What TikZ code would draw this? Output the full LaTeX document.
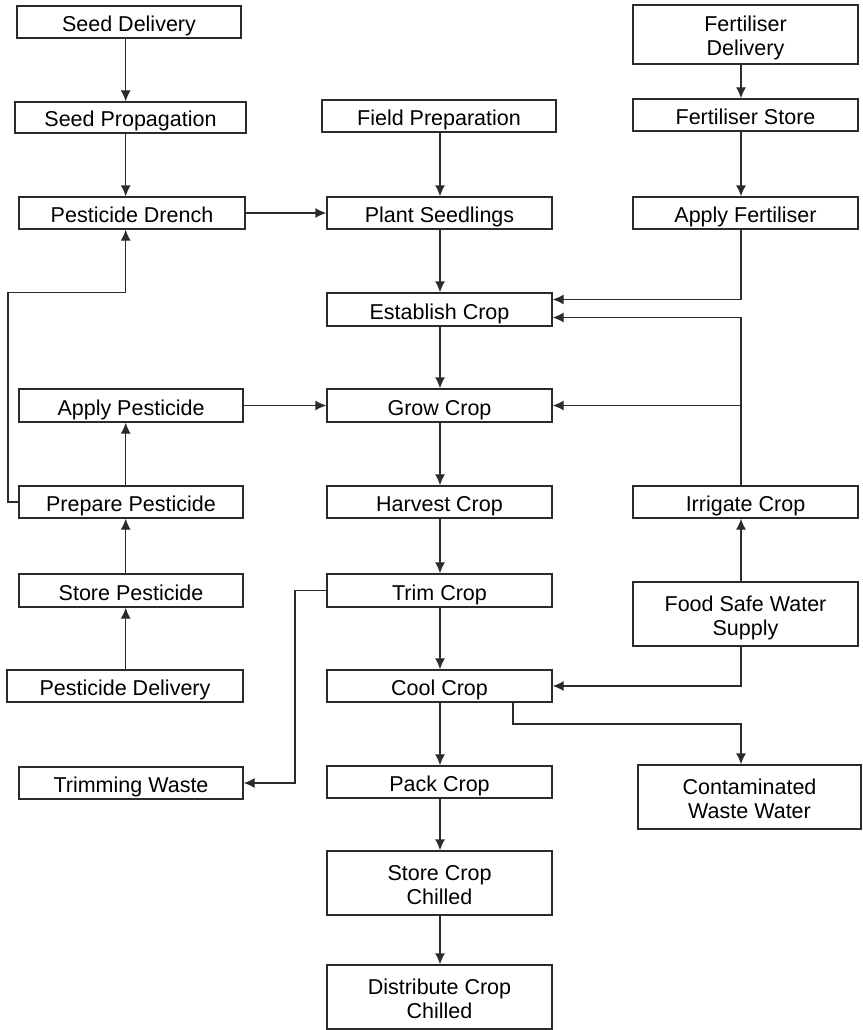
\documentclass[tikz,border=0pt]{standalone}
\usepackage{fontspec}
\setmainfont{Liberation Sans}
\usetikzlibrary{arrows.meta}
\definecolor{linegray}{HTML}{2B2B2B}
% \flowbox[extra style]{name}{left}{right}{top}{bottom}{text}
\newcommand\flowbox[7][]{%
  \node[box, #1, minimum width={(#4-#3)*1pt}, minimum height={(#6-#5)*1pt}]
    (#2) at ({(#3+#4)/2},{(#5+#6)/2}) {#7};}
\begin{document}
\begin{tikzpicture}[x=1pt,y=-1pt,
  box/.style={draw=linegray, line width=1.3pt, inner sep=0pt, align=center,
    text height=19pt, text depth=0pt,
    font=\fontsize{21.5}{24}\selectfont, text=black},
  twoline/.style={text height=43pt},
  flow/.style={draw=linegray, line width=1.3pt, -{Latex[length=11pt,width=10pt]}}]
\useasboundingbox (0,0) rectangle (862,1030);

% left column
\flowbox{sd}{17}{241}{6}{38}{Seed Delivery}
\flowbox{sp}{15}{246}{102}{133}{Seed Propagation}
\flowbox{pd}{19}{245}{197}{229}{Pesticide Drench}
\flowbox{ap}{19}{243}{389}{422}{Apply Pesticide}
\flowbox{pp}{19}{243}{486}{518}{Prepare Pesticide}
\flowbox{stp}{19}{243}{574}{607}{Store Pesticide}
\flowbox{pdl}{7}{243}{670}{702}{Pesticide Delivery}
\flowbox{tw}{19}{243}{767}{799}{Trimming Waste}

% middle column
\flowbox{fp}{322}{556}{100}{132}{Field Preparation}
\flowbox{ps}{327}{552}{197}{229}{Plant Seedlings}
\flowbox{ec}{327}{552}{293}{326}{Establish Crop}
\flowbox{gc}{327}{552}{389}{422}{Grow Crop}
\flowbox{hc}{327}{552}{486}{518}{Harvest Crop}
\flowbox{tc}{327}{552}{574}{607}{Trim Crop}
\flowbox{cc}{327}{552}{670}{702}{Cool Crop}
\flowbox{pk}{327}{552}{766}{798}{Pack Crop}
\flowbox[twoline]{scc}{327}{552}{851}{915}{Store Crop\\Chilled}
\flowbox[twoline]{dcc}{327}{552}{965}{1029}{Distribute Crop\\Chilled}

% right column
\flowbox[twoline]{fd}{633}{858}{5}{64}{Fertiliser\\Delivery}
\flowbox{fs}{633}{858}{99}{131}{Fertiliser Store}
\flowbox{af}{633}{858}{197}{229}{Apply Fertiliser}
\flowbox{ic}{633}{858}{486}{518}{Irrigate Crop}
\flowbox[twoline]{fsw}{633}{858}{582}{646}{Food Safe Water\\Supply}
\flowbox[twoline]{cww}{638}{861}{765}{829}{Contaminated\\Waste Water}

% connector lanes
\coordinate (lx) at (125.7,0);
\coordinate (mx) at (440,0);
\coordinate (rx) at (741,0);
\coordinate (lp) at (8,292.7);
\coordinate (tb) at (295,0);
\coordinate (cb) at (513,724);

% seed and pesticide chain
\draw[flow] (sd.south -| lx) -- (sp.north -| lx);
\draw[flow] (sp.south -| lx) -- (pd.north -| lx);
\draw[flow] (pd.east) -- (pd.east -| ps.west);
\draw[flow] (pp.west) -- (pp.west -| lp) |- (lp -| lx) -- (pd.south -| lx);
\draw[flow] (pp.north -| lx) -- (ap.south -| lx);
\draw[flow] (stp.north -| lx) -- (pp.south -| lx);
\draw[flow] (pdl.north -| lx) -- (stp.south -| lx);
\draw[flow] (ap.east) -- (ap.east -| gc.west);

% main crop line
\draw[flow] (fp.south -| mx) -- (ps.north -| mx);
\draw[flow] (ps.south -| mx) -- (ec.north -| mx);
\draw[flow] (ec.south -| mx) -- (gc.north -| mx);
\draw[flow] (gc.south -| mx) -- (hc.north -| mx);
\draw[flow] (hc.south -| mx) -- (tc.north -| mx);
\draw[flow] (tc.south -| mx) -- (cc.north -| mx);
\draw[flow] (cc.south -| mx) -- (pk.north -| mx);
\draw[flow] (pk.south -| mx) -- (scc.north -| mx);
\draw[flow] (scc.south -| mx) -- (dcc.north -| mx);
\draw[flow] (tc.west) -- (tc.west -| tb) |- (tw.east);

% fertiliser and water
\draw[flow] (fd.south -| rx) -- (fs.north -| rx);
\draw[flow] (fs.south -| rx) -- (af.north -| rx);
\draw[flow] (af.south -| rx) |- ([yshift=10pt]ec.east);
\draw[flow] (ic.north -| rx) |- ([yshift=-8pt]ec.east);
\draw[flow] (gc.east -| rx) -- (gc.east);
\draw[flow] (fsw.north -| rx) -- (ic.south -| rx);
\draw[flow] (fsw.south -| rx) |- (cc.east);
\draw[flow] (cc.south -| cb) -- (cb) -| (cww.north -| rx);
\end{tikzpicture}
\end{document}
